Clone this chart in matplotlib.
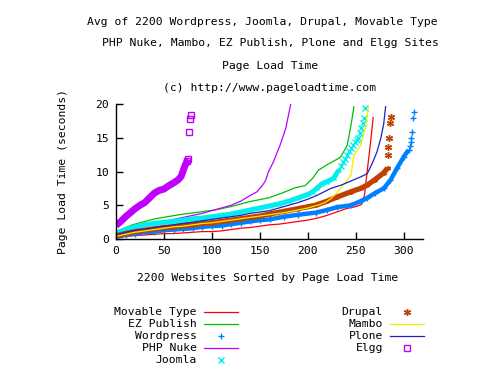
import numpy as np
import matplotlib
matplotlib.use("Agg")
import matplotlib.pyplot as plt
from matplotlib.lines import Line2D

# ---- data (x = site rank, y = seconds) ----
mt_x = [0, 10, 20, 30, 40, 50, 60, 70, 80, 90, 100, 110, 120, 130, 140, 150, 160, 170,
        180, 190, 200, 210, 220, 230, 240, 250, 256, 259, 261, 263, 265, 267, 268]
mt_y = [0.2, 0.4, 0.5, 0.6, 0.7, 0.8, 0.8, 0.9, 1.0, 1.1, 1.1, 1.2, 1.4, 1.6, 1.7, 1.9, 2.1, 2.2,
        2.4, 2.6, 2.8, 3.1, 3.5, 4.0, 4.5, 4.8, 5.1, 6.5, 9.0, 11.5, 13.9, 16.5, 18.0]

ez_x = [0, 3, 17, 41, 66, 87, 103, 120, 138, 159, 173, 187, 197, 205, 211, 220, 234, 241, 245, 248]
ez_y = [1.0, 1.3, 2.1, 3.0, 3.6, 4.0, 4.3, 4.8, 5.5, 6.1, 6.8, 7.6, 7.9, 9.0, 10.2, 11.0, 12.1, 13.9, 16.9, 19.6]

wp_x = [0, 10, 20, 30, 40, 50, 60, 70, 80, 90, 100, 110, 120, 130, 140, 150, 160, 175, 190,
        208, 220, 230, 245, 255, 262, 270, 279, 286, 293, 300, 305]
wp_y = [0.3, 0.6, 0.8, 1.0, 1.1, 1.3, 1.4, 1.5, 1.6, 1.8, 1.9, 2.0, 2.2, 2.4, 2.6, 2.8, 2.9, 3.3, 3.6,
        3.9, 4.3, 4.7, 5.0, 5.6, 6.1, 6.8, 7.5, 8.7, 10.5, 12.2, 13.2]
wp_tail_x = [306, 307, 308, 309, 310, 311]
wp_tail_y = [13.8, 14.4, 15.0, 15.8, 17.9, 18.8]

nuke_x = [0, 10, 20, 30, 40, 50, 60, 70, 80, 90, 100, 110, 120, 130, 138, 147, 153, 156, 159,
          164, 171, 177, 182]
nuke_y = [0.9, 1.3, 1.7, 2.0, 2.3, 2.6, 2.9, 3.2, 3.5, 3.8, 4.2, 4.6, 5.0, 5.6, 6.3, 7.0, 8.0, 8.7, 10.0,
          11.4, 13.9, 16.4, 19.9]

joomla_x = [0, 10, 20, 30, 40, 50, 60, 70, 80, 90, 100, 110, 120, 130, 140, 150, 160, 170, 180,
            190, 200, 205, 210, 215, 220, 227, 232]
joomla_y = [0.8, 1.4, 1.8, 2.1, 2.3, 2.5, 2.6, 2.8, 3.0, 3.1, 3.3, 3.5, 3.7, 4.0, 4.3, 4.6, 4.9, 5.2, 5.6,
            6.1, 6.6, 7.0, 7.6, 8.2, 8.5, 9.0, 10.2]
joomla_tail_x = [235, 237, 239, 241, 243, 245, 247, 249, 251, 252, 254, 255, 257, 258, 260]
joomla_tail_y = [10.8, 11.4, 11.9, 12.4, 13.0, 13.5, 13.9, 14.3, 14.7, 15.0, 15.7, 16.4, 17.2, 18.0, 19.4]

drupal_x = [0, 10, 20, 30, 40, 50, 60, 70, 80, 90, 100, 110, 120, 130, 140, 150, 160, 175, 190,
            208, 220, 230, 245, 255, 262, 270, 279, 283]
drupal_y = [0.5, 0.8, 1.1, 1.3, 1.5, 1.7, 1.8, 2.0, 2.1, 2.3, 2.4, 2.6, 2.8, 3.0, 3.2, 3.4, 3.7, 4.1, 4.5,
            5.0, 5.6, 6.2, 7.0, 7.5, 8.0, 8.8, 9.8, 10.5]
drupal_tail_x = [283, 284, 285, 286, 287]
drupal_tail_y = [12.4, 13.6, 15.0, 17.2, 18.1]

mambo_x = [0, 10, 20, 30, 40, 50, 60, 70, 80, 90, 100, 110, 120, 130, 140, 150, 160, 175, 190,
           200, 210, 218, 224, 230, 234, 240, 245, 248, 252, 255, 258, 260, 263]
mambo_y = [0.4, 0.7, 1.0, 1.2, 1.4, 1.6, 1.8, 1.9, 2.1, 2.3, 2.4, 2.6, 2.8, 3.0, 3.2, 3.4, 3.6, 3.9, 4.3,
           4.6, 5.0, 5.4, 6.0, 6.8, 7.5, 8.5, 9.5, 12.4, 13.2, 13.9, 15.5, 16.4, 19.6]

plone_x = [0, 10, 20, 30, 40, 50, 60, 70, 80, 90, 100, 110, 120, 130, 140, 150, 160, 175, 190,
           200, 210, 224, 235, 245, 255, 262, 268, 272, 276, 279, 281]
plone_y = [0.6, 1.0, 1.3, 1.5, 1.7, 1.9, 2.1, 2.3, 2.5, 2.7, 2.9, 3.1, 3.3, 3.5, 3.8, 4.0, 4.2, 4.8, 5.4,
           5.9, 6.5, 7.5, 8.0, 8.6, 9.2, 9.7, 11.5, 12.9, 14.9, 17.0, 19.6]

elgg_x = [0, 5, 10, 15, 20, 25, 30, 35, 40, 45, 50, 55, 60, 65, 68, 70, 72, 74, 75]
elgg_y = [2.0, 2.6, 3.3, 3.9, 4.5, 5.0, 5.4, 6.1, 6.8, 7.2, 7.4, 7.9, 8.3, 8.8, 9.3, 10.1, 10.9, 11.5, 11.8]
elgg_tail_x = [76, 77, 78]
elgg_tail_y = [15.8, 17.8, 18.4]

title_lines = ["Avg of 2200 Wordpress, Joomla, Drupal, Movable Type",
               "PHP Nuke, Mambo, EZ Publish, Plone and Elgg Sites",
               "Page Load Time",
               "(c) http://www.pageloadtime.com"]

RED, GREEN, BLUE, MAG = "#ff0000", "#00c000", "#0080ff", "#c000ff"
CYAN, BROWN, YELLOW, NAVY = "#00eeee", "#c04000", "#eeee00", "#2020c0"
FONT = "DejaVu Sans Mono"
FS = 8.2

W, H = 500, 378
fig = plt.figure(figsize=(W / 100, H / 100), dpi=100)
ax = fig.add_axes([116 / W, (H - 239) / H, (423 - 116) / W, (239 - 104) / H])

lw = 0.9
ax.plot(mt_x, mt_y, color=RED, lw=lw)
ax.plot(ez_x, ez_y, color=GREEN, lw=lw)
ax.plot(wp_x, wp_y, color=BLUE, lw=3.2, solid_capstyle="butt")
ax.plot(wp_x, wp_y, ls="none", marker="+", ms=4, mew=1, color=BLUE)
ax.plot(wp_tail_x, wp_tail_y, ls="none", marker="+", ms=5, mew=1, color=BLUE)
ax.plot(nuke_x, nuke_y, color=MAG, lw=lw)
ax.plot(joomla_x, joomla_y, color=CYAN, lw=3.6, solid_capstyle="butt")
ax.plot(joomla_x, joomla_y, ls="none", marker="x", ms=3.5, mew=1, color=CYAN)
ax.plot(joomla_tail_x, joomla_tail_y, ls="none", marker="x", ms=4, mew=1, color=CYAN)
ax.plot(drupal_x, drupal_y, color=BROWN, lw=3.8, solid_capstyle="butt")
ax.plot(drupal_x, drupal_y, ls="none", marker=(6, 2, 0), ms=3.5, mew=1, color=BROWN)
ax.plot(drupal_tail_x, drupal_tail_y, ls="none", marker=(6, 2, 0), ms=5, mew=1, color=BROWN)
ax.plot(mambo_x, mambo_y, color=YELLOW, lw=lw)
ax.plot(plone_x, plone_y, color=NAVY, lw=lw)
ax.plot(elgg_x, elgg_y, color=MAG, lw=5.0, solid_capstyle="butt")
ax.plot(elgg_tail_x, elgg_tail_y, ls="none", marker="s", ms=4.5, mew=1, mfc="none", color=MAG)
ax.plot(elgg_x[-2:], elgg_y[-2:], ls="none", marker="s", ms=4.5, mew=1, mfc="none", color=MAG)

ax.set_xlim(0, 320)
ax.set_ylim(0, 20)
ax.set_xticks(np.arange(0, 301, 50))
ax.set_yticks(np.arange(0, 21, 5))
for s in ["top", "right"]:
    ax.spines[s].set_visible(False)
for s in ["left", "bottom"]:
    ax.spines[s].set_linewidth(1)
ax.tick_params(direction="in", length=5, width=1, labelsize=FS, pad=5)
for lab in ax.get_xticklabels() + ax.get_yticklabels():
    lab.set_family(FONT)

# titles and axis labels
for i, (line, ypx) in enumerate(zip(title_lines, [21.7, 43.3, 65.7, 87.7])):
    xc = 262 if i == 0 else 270
    fig.text(xc / W, 1 - ypx / H, line, ha="center", va="center", family=FONT, fontsize=FS)
fig.text(268 / W, 1 - 277.7 / H, "2200 Websites Sorted by Page Load Time",
         ha="center", va="center", family=FONT, fontsize=FS)
fig.text(63 / W, 1 - 172 / H, "Page Load Time (seconds)", rotation=90,
         ha="center", va="center", family=FONT, fontsize=FS)

# legend drawn by hand, gnuplot style
legend_names = ["Movable Type", "EZ Publish", "Wordpress", "PHP Nuke", "Joomla",
                "Drupal", "Mambo", "Plone", "Elgg"]
legend_styles = [dict(color=RED, lw=lw), dict(color=GREEN, lw=lw),
                 dict(color=BLUE, ls="none", marker="+", ms=5, mew=1),
                 dict(color=MAG, lw=lw),
                 dict(color=CYAN, ls="none", marker="x", ms=4, mew=1),
                 dict(color=BROWN, ls="none", marker=(6, 2, 0), ms=5, mew=1),
                 dict(color=YELLOW, lw=lw), dict(color=NAVY, lw=lw),
                 dict(color=MAG, ls="none", marker="s", ms=4.5, mew=1, mfc="none")]
rows = [311.7, 323.7, 335.7, 347.7, 359.7]
for i, (name, st) in enumerate(zip(legend_names, legend_styles)):
    col, r = (0, i) if i < 5 else (1, i - 5)
    xr = 197 if col == 0 else 383
    ypx = rows[r]
    fig.text(xr / W, 1 - ypx / H, name, ha="right", va="center", family=FONT, fontsize=FS)
    yf = 1 - ypx / H
    if st.get("ls") == "none":
        xs = [(xr + 24) / W]
        ys = [yf]
    else:
        xs = [(xr + 7) / W, (xr + 41) / W]
        ys = [yf, yf]
    fig.add_artist(Line2D(xs, ys, transform=fig.transFigure, **st))

fig.savefig("out.png", dpi=100)
